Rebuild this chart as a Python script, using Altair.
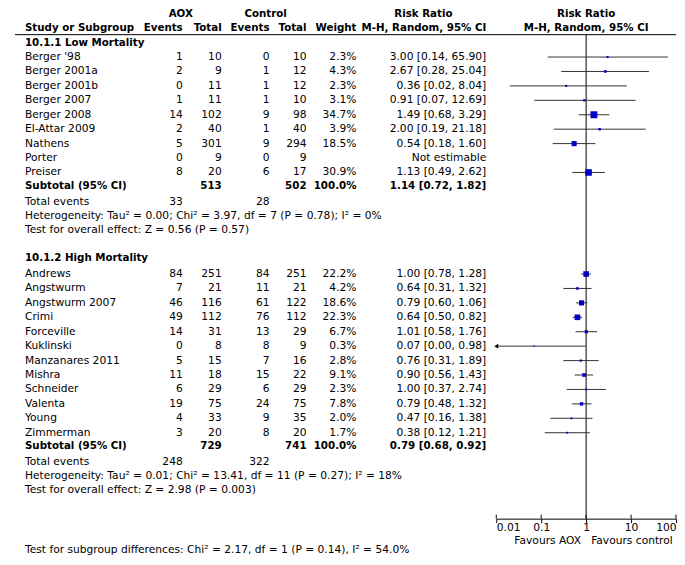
import altair as alt
import pandas as pd

# ---------------- data ----------------
g1_title = "10.1.1 Low Mortality"
g1_names = ["Berger '98", "Berger 2001a", "Berger 2001b", "Berger 2007", "Berger 2008",
            "El-Attar 2009", "Nathens", "Porter", "Preiser"]
g1_aox_events = [1, 2, 0, 1, 14, 2, 5, 0, 8]
g1_aox_total = [10, 9, 11, 11, 102, 40, 301, 9, 20]
g1_ctl_events = [0, 1, 1, 1, 9, 1, 9, 0, 6]
g1_ctl_total = [10, 12, 12, 10, 98, 40, 294, 9, 17]
g1_weight = [2.3, 4.3, 2.3, 3.1, 34.7, 3.9, 18.5, None, 30.9]
g1_rr = [3.00, 2.67, 0.36, 0.91, 1.49, 2.00, 0.54, None, 1.13]
g1_lo = [0.14, 0.28, 0.02, 0.07, 0.68, 0.19, 0.18, None, 0.49]
g1_hi = [65.90, 25.04, 8.04, 12.69, 3.29, 21.18, 1.60, None, 2.62]
g1_subtotal = [513, 502, 1.14, 0.72, 1.82]          # aox total, ctl total, rr, lo, hi
g1_events = [33, 28]
g1_het = "Heterogeneity: Tau\u00b2 = 0.00; Chi\u00b2 = 3.97, df = 7 (P = 0.78); I\u00b2 = 0%"
g1_test = "Test for overall effect: Z = 0.56 (P = 0.57)"

g2_title = "10.1.2 High Mortality"
g2_names = ["Andrews", "Angstwurm", "Angstwurm 2007", "Crimi", "Forceville", "Kuklinski",
            "Manzanares 2011", "Mishra", "Schneider", "Valenta", "Young", "Zimmerman"]
g2_aox_events = [84, 7, 46, 49, 14, 0, 5, 11, 6, 19, 4, 3]
g2_aox_total = [251, 21, 116, 112, 31, 8, 15, 18, 29, 75, 33, 20]
g2_ctl_events = [84, 11, 61, 76, 13, 8, 7, 15, 6, 24, 9, 8]
g2_ctl_total = [251, 21, 122, 112, 29, 9, 16, 22, 29, 75, 35, 20]
g2_weight = [22.2, 4.2, 18.6, 22.3, 6.7, 0.3, 2.8, 9.1, 2.3, 7.8, 2.0, 1.7]
g2_rr = [1.00, 0.64, 0.79, 0.64, 1.01, 0.07, 0.76, 0.90, 1.00, 0.79, 0.47, 0.38]
g2_lo = [0.78, 0.31, 0.60, 0.50, 0.58, 0.00, 0.31, 0.56, 0.37, 0.48, 0.16, 0.12]
g2_hi = [1.28, 1.32, 1.06, 0.82, 1.76, 0.98, 1.89, 1.43, 2.74, 1.32, 1.38, 1.21]
g2_subtotal = [729, 741, 0.79, 0.68, 0.92]
g2_events = [248, 322]
g2_het = "Heterogeneity: Tau\u00b2 = 0.01; Chi\u00b2 = 13.41, df = 11 (P = 0.27); I\u00b2 = 18%"
g2_test = "Test for overall effect: Z = 2.98 (P = 0.003)"

subgroup_test = "Test for subgroup differences: Chi\u00b2 = 2.17, df = 1 (P = 0.14), I\u00b2 = 54.0%"
tick_values = [0.01, 0.1, 1, 10, 100]
favours = ["Favours AOX", "Favours control"]

# ---------------- layout (page pixels) ----------------
OFF = 8
FONT = "DejaVu Sans"
FS = 10.7
FS_BOLD = 10.3
AXIS_Y = 519
COLS = {
    "name": (25, "left"), "ae": (183, "right"), "at": (222, "right"),
    "ce": (270, "right"), "ct": (307, "right"), "w": (357, "right"),
    "rr": (487, "right"), "aoxh": (181, "center"), "ctlh": (266, "center"),
    "rrh": (424, "center"), "fh": (587, "center"),
    "favl": (582, "right"), "favr": (592, "left"),
}

texts = []
def add(y, col, text, bold=False):
    texts.append({"y": y, "col": col, "text": str(text), "bold": bold})

ROW1, ROW2, LINE_Y = 14, 27.3, 34.3
add(ROW1, "aoxh", "AOX", True)
add(ROW1, "ctlh", "Control", True)
add(ROW1, "rrh", "Risk Ratio", True)
add(ROW1, "fh", "Risk Ratio", True)
add(ROW2, "name", "Study or Subgroup", True)
add(ROW2, "ae", "Events", True)
add(ROW2, "at", "Total", True)
add(ROW2, "ce", "Events", True)
add(ROW2, "ct", "Total", True)
add(ROW2, "w", "Weight", True)
add(ROW2, "rr", "M-H, Random, 95% CI", True)
add(ROW2, "fh", "M-H, Random, 95% CI", True)

forest = []
diamonds = []
STEP = 14.45

def group(header_y, first_gap, title, names, ae, at, ce, ct, w, rr, lo, hi, sub, ev, het, test, gid):
    add(header_y, "name", title, True)
    y = header_y + first_gap
    for i, n in enumerate(names):
        yy = y + STEP * i
        add(yy, "name", n)
        add(yy, "ae", ae[i]); add(yy, "at", at[i])
        add(yy, "ce", ce[i]); add(yy, "ct", ct[i])
        if rr[i] is None:
            add(yy, "rr", "Not estimable")
        else:
            add(yy, "w", f"{w[i]:.1f}%")
            add(yy, "rr", f"{rr[i]:.2f} [{lo[i]:.2f}, {hi[i]:.2f}]")
            forest.append({"y": yy, "rr": rr[i], "lo": max(lo[i], 0.01),
                           "hi": min(hi[i], 100), "w": w[i], "arrow": lo[i] < 0.01})
    last = y + STEP * (len(names) - 1)
    ys = last + 13.7
    add(ys, "name", "Subtotal (95% CI)", True)
    add(ys, "at", sub[0], True); add(ys, "ct", sub[1], True)
    add(ys, "w", "100.0%", True)
    add(ys, "rr", f"{sub[2]:.2f} [{sub[3]:.2f}, {sub[4]:.2f}]", True)
    for xv, hh in ((sub[3], 0), (sub[2], 6), (sub[4], 0)):
        diamonds.append({"g": gid, "x": xv, "y1": ys - hh, "y2": ys + hh})
    yt = ys + 16
    add(yt, "name", "Total events")
    add(yt, "ae", ev[0]); add(yt, "ce", ev[1])
    add(yt + 14, "name", het)
    add(yt + 28, "name", test)
    return yt + 28

end1 = group(42.3, 14.4, g1_title, g1_names, g1_aox_events, g1_aox_total, g1_ctl_events,
             g1_ctl_total, g1_weight, g1_rr, g1_lo, g1_hi, g1_subtotal, g1_events, g1_het, g1_test, "a")
end2 = group(end1 + 27.7, 16.3, g2_title, g2_names, g2_aox_events, g2_aox_total, g2_ctl_events,
             g2_ctl_total, g2_weight, g2_rr, g2_lo, g2_hi, g2_subtotal, g2_events, g2_het, g2_test, "b")

add(541, "favl", favours[0])
add(541, "favr", favours[1])
add(550.7, "name", subgroup_test)

tdf = pd.DataFrame(texts)
fdf = pd.DataFrame(forest)
ddf = pd.DataFrame(diamonds)

# ---------------- scales ----------------
yscale = alt.Scale(domain=[OFF, AXIS_Y], range=[0, AXIS_Y - OFF], nice=False, zero=False)
xscale = alt.Scale(type="log", domain=[0.01, 100], range=[497 - OFF, 677 - OFF])
xaxis = alt.Axis(values=tick_values, format="~g", labelFlush=True, title=None, grid=False,
                 domainColor="black", tickColor="black", tickSize=4, domainWidth=1,
                 tickWidth=1, labelFont=FONT, labelFontSize=FS, labelColor="black",
                 labelPadding=0)

def X(field):
    return alt.X(field, scale=xscale, axis=xaxis)

def Y(field):
    return alt.Y(field, scale=yscale, axis=None)

layers = []

# header rule
layers.append(alt.Chart(pd.DataFrame({"y": [LINE_Y]})).mark_rule(color="black", strokeWidth=1).encode(
    x=alt.value(15 - OFF), x2=alt.value(677 - OFF), y=Y("y:Q")))

# line of no effect
layers.append(alt.Chart(pd.DataFrame({"v": [1], "y": [LINE_Y], "y2": [AXIS_Y]})).mark_rule(
    color="black", strokeWidth=1).encode(x=X("v:Q"), y=Y("y:Q"), y2="y2:Q"))

# upper halves of axis ticks
layers.append(alt.Chart(pd.DataFrame({"v": tick_values})).mark_rule(color="black", strokeWidth=1).encode(
    x=X("v:Q"), y=alt.value(515 - OFF), y2=alt.value(AXIS_Y - OFF)))

# confidence intervals
layers.append(alt.Chart(fdf).mark_rule(color="#333333", strokeWidth=1).encode(
    x=X("lo:Q"), x2="hi:Q", y=Y("y:Q")))

# arrows for truncated CIs
layers.append(alt.Chart(fdf).transform_filter("datum.arrow").mark_point(
    shape="triangle-left", filled=True, color="black", opacity=1, size=22).encode(
    x=X("lo:Q"), y=Y("y:Q")))

# study squares
layers.append(alt.Chart(fdf).mark_square(color="#0000c4", opacity=1, filled=True).encode(
    x=X("rr:Q"), y=Y("y:Q"),
    size=alt.Size("w:Q", scale=alt.Scale(domain=[0, 35], range=[1, 49]), legend=None)))

# subtotal diamonds
layers.append(alt.Chart(ddf).mark_area(color="black", opacity=1).encode(
    x=X("x:Q"), y=Y("y1:Q"), y2="y2:Q", detail="g:N", order="x:Q"))

# text columns
for col, (xpos, align) in COLS.items():
    for bold in (False, True):
        sub = tdf[(tdf["col"] == col) & (tdf["bold"] == bold)]
        if len(sub) == 0:
            continue
        layers.append(alt.Chart(sub).mark_text(
            align=align, baseline="middle", font=FONT, fontSize=FS_BOLD if bold else FS,
            fontWeight="bold" if bold else "normal", color="black").encode(
            x=alt.value(xpos - OFF), y=Y("y:Q"), text="text:N"))

chart = alt.layer(*layers).properties(
    width=677 - 2 * OFF, height=AXIS_Y - OFF, padding=0, background="white"
).configure_view(stroke=None)

chart.save("out.html", embed_options={"renderer": "svg", "actions": False})
